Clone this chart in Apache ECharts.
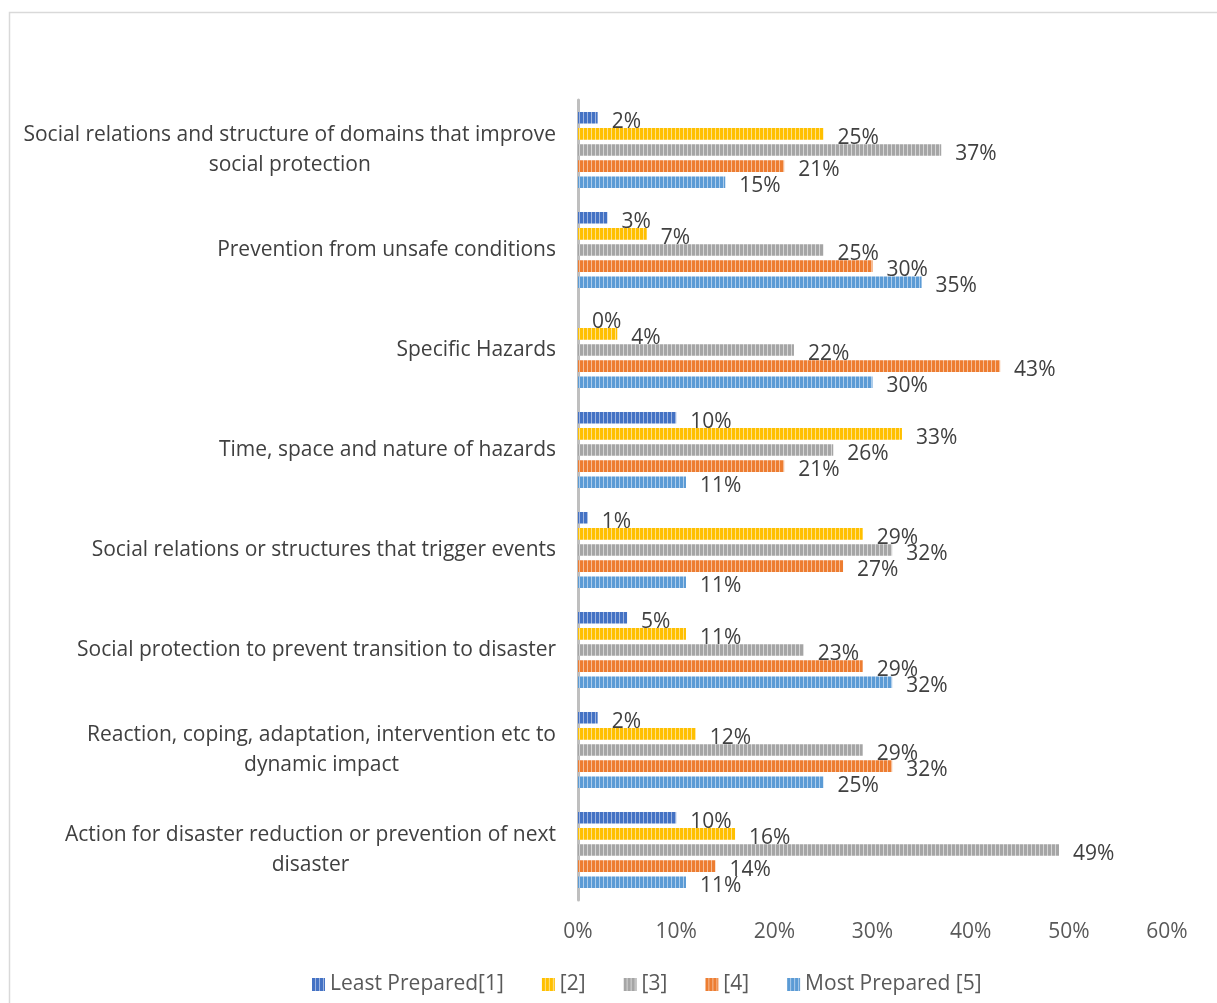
<!DOCTYPE html>
<html><head><meta charset="utf-8">
<script src="https://cdn.jsdelivr.net/npm/echarts@6/dist/echarts.min.js"></script>
<style>html,body{margin:0;padding:0;background:#fff}#c{width:1217px;height:1003px}</style>
</head><body><div id="c"></div>
<script>
const categories = [
  "Social relations and structure of domains that improve\nsocial protection",
  "Prevention from unsafe conditions",
  "Specific Hazards",
  "Time, space and nature of hazards",
  "Social relations or structures that trigger events",
  "Social protection to prevent transition to disaster",
  "Reaction, coping, adaptation, intervention etc to\ndynamic impact",
  "Action for disaster reduction or prevention of next\ndisaster"
];
const seriesNames = ["Least Prepared[1]", "[2]", "[3]", "[4]", "Most Prepared [5]"];
const least = [2, 3, 0, 10, 1, 5, 2, 10];
const s2 = [25, 7, 4, 33, 29, 11, 12, 16];
const s3 = [37, 25, 22, 26, 32, 23, 29, 49];
const s4 = [21, 30, 43, 21, 27, 29, 32, 14];
const most = [15, 35, 30, 11, 11, 32, 25, 11];
const xTicks = [0, 10, 20, 30, 40, 50, 60];

const colors = ["#4472C4", "#FFC000", "#A5A5A5", "#ED7D31", "#5B9BD5"];
const stripeColors = ["#9DB4E0", "#FFE08A", "#D6D6D6", "#F6BE98", "#AECDEB"];
function pattern(c, s) {
  const cv = document.createElement('canvas');
  cv.width = 4; cv.height = 4;
  const ctx = cv.getContext('2d');
  ctx.fillStyle = c; ctx.fillRect(0, 0, 4, 4);
  ctx.fillStyle = s; ctx.fillRect(3, 0, 1, 4);
  return { image: cv, repeat: 'repeat' };
}
const FONT = 'Open Sans';
const FS = 21;
const allData = [least, s2, s3, s4, most];
const chart = echarts.init(document.getElementById('c'), null, { renderer: 'canvas' });
chart.setOption({
  backgroundColor: '#fff',
  animation: false,
  textStyle: { fontFamily: FONT },
  graphic: [{ type: 'rect', shape: { x: 9.5, y: 12.5, width: 1300, height: 1100 }, style: { fill: 'none', stroke: '#D9D9D9', lineWidth: 1.5 }, silent: true }],
  grid: { left: 578, right: 50, top: 100, bottom: 103, containLabel: false },
  legend: {
    bottom: 3, left: 307, itemWidth: 13, itemHeight: 13, itemGap: 38,
    icon: 'rect',
    textStyle: { fontSize: FS, color: '#595959', fontFamily: FONT },
    data: seriesNames
  },
  xAxis: {
    type: 'value', min: 0, max: 60, interval: 10,
    axisLine: { show: false }, axisTick: { show: false }, splitLine: { show: false },
    axisLabel: { formatter: '{value}%', fontSize: FS, color: '#595959', margin: 22, fontFamily: FONT }
  },
  yAxis: {
    type: 'category', inverse: true, data: categories,
    axisLine: { show: true, lineStyle: { color: '#BFBFBF', width: 3 } },
    axisTick: { show: false },
    axisLabel: {
      fontSize: FS, color: '#404040', margin: 22, fontFamily: FONT, align: 'right',
      formatter: v => v.split('\n').map(l => '{c|' + l + '}').join('\n'),
      rich: { c: { align: 'center', fontSize: FS, color: '#404040', fontFamily: FONT, lineHeight: 30 } }
    }
  },
  series: allData.map((d, i) => ({
    name: seriesNames[i], type: 'bar', data: d,
    barCategoryGap: '24%', barGap: '40%',
    itemStyle: { color: pattern(colors[i], stripeColors[i]) },
    label: { show: true, position: 'right', distance: 14, offset: [0, 4], formatter: '{c}%', fontSize: FS, color: '#404040', fontFamily: FONT }
  }))
});
</script></body></html>
